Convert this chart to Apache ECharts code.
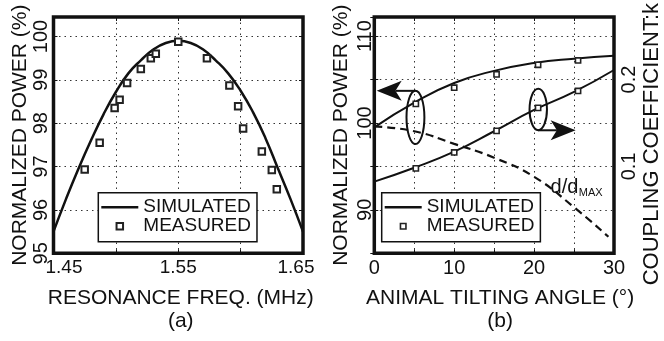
<!DOCTYPE html>
<html>
<head>
<meta charset="utf-8">
<script src="https://cdn.jsdelivr.net/npm/echarts@6/dist/echarts.min.js"></script>
<style>
  html, body { margin: 0; padding: 0; background: #fff; }
  #chart { width: 664px; height: 341px; }
</style>
</head>
<body>
<div id="chart"></div>
<script>
// (a) normalized power vs resonance frequency
const freqSim = [1.45, 1.46, 1.47, 1.48, 1.49, 1.50, 1.51, 1.52, 1.53, 1.54, 1.55,
                 1.56, 1.57, 1.58, 1.59, 1.60, 1.61, 1.62, 1.63, 1.64, 1.65];
const powerSimA = [95.5, 96.25, 96.95, 97.6, 98.2, 98.72, 99.15, 99.45, 99.7, 99.85, 99.9,
                   99.85, 99.7, 99.45, 99.15, 98.75, 98.25, 97.65, 96.95, 96.25, 95.5];
const freqMeas = [1.475, 1.487, 1.499, 1.503, 1.509, 1.520, 1.528, 1.532, 1.550,
                  1.573, 1.591, 1.598, 1.602, 1.617, 1.625, 1.629];
const powerMeasA = [96.93, 97.55, 98.35, 98.54, 98.93, 99.25, 99.50, 99.60, 99.88,
                    99.50, 98.87, 98.39, 97.88, 97.35, 96.92, 96.48];

// (b) normalized power and coupling coefficient vs tilting angle
const angleSim = [0, 5, 10, 15, 20, 25, 30];
const powerSimB = [99.5, 102.35, 104.6, 106.0, 106.9, 107.4, 107.75];
const couplingSim = [0.0825, 0.0985, 0.117, 0.1405, 0.165, 0.1858, 0.211];
const angleMeas = [5.2, 10, 15.3, 20.5, 25.5];
const powerMeasB = [102.2, 104.06, 105.6, 106.7, 107.2];
const couplingMeas = [0.0977, 0.1161, 0.1409, 0.1674, 0.1869];
const distAngle = [0, 5, 10, 15, 20, 25, 29.3];
const distCurve = [99.6, 99.05, 97.6, 96.0, 93.8, 90.3, 86.9];

// tick labels
const freqLabels = [1.45, 1.55, 1.65];
const powerLabelsA = [95, 96, 97, 98, 99, 100];
const angleLabels = [0, 10, 20, 30];
const powerLabelsB = [90, 100, 110];
const couplingLabels = [0.1, 0.2];

// annotations in (angle, power) units
const ovals = [[5.15, 100.65, 1.12, 3.07], [20.52, 101.55, 1.09, 2.39]];
const arrows = [[[5.15, 103.7], [0.3, 103.7]], [[20.52, 99.16], [25.2, 99.16]]];

const FONT = 'Liberation Sans, Arial, sans-serif';
const INK = '#111';

const pairs = (xs, ys) => xs.map((x, i) => [x, ys[i]]);
const has = (list, v) => list.some((t) => Math.abs(t - v) < 1e-6);
const only = (list, digits) => (v) => has(list, v) ? v.toFixed(digits) : '';

const tick = { show: true, inside: true, length: 4, lineStyle: { color: INK, width: 1 } };
const dotted = { color: '#333', width: 1, type: [1.5, 4] };
const split = { show: true, showMinLine: false, showMaxLine: false, lineStyle: dotted };
const label = { color: INK, fontFamily: FONT, fontSize: 19 };
const nameStyle = { color: INK, fontFamily: FONT, fontSize: 21 };

const chart = echarts.init(document.getElementById('chart'));

const option = {
  animation: false,
  grid: [
    { left: 53.5, top: 17, width: 249.5, height: 236.3, show: true, borderColor: INK, borderWidth: 3.5, backgroundColor: '#fff' },
    { left: 374.3, top: 17, width: 243, height: 236.3, show: true, borderColor: INK, borderWidth: 3.5, backgroundColor: '#fff' }
  ],
  xAxis: [
    {
      gridIndex: 0, type: 'value', min: 1.45, max: 1.65, interval: 0.05,
      axisLine: { show: false }, axisTick: tick, splitLine: split,
      axisLabel: {
        ...label, margin: 5,
        formatter: (v) => {
          if (!has(freqLabels, v)) return '';
          if (Math.abs(v - freqLabels[0]) < 1e-6) return '{lo|' + v.toFixed(2) + '}';
          if (Math.abs(v - freqLabels[2]) < 1e-6) return '{hi|' + v.toFixed(2) + '}';
          return v.toFixed(2);
        },
        rich: {
          lo: { ...label, padding: [0, 0, 0, 21] },
          hi: { ...label, padding: [0, 14, 0, 0] }
        }
      },
      name: 'RESONANCE FREQ. (MHz)\n(a)', nameLocation: 'middle', nameGap: 33,
      nameTextStyle: { ...nameStyle, lineHeight: 23, padding: [0, 0, 0, 5] }
    },
    {
      gridIndex: 1, type: 'value', min: 0, max: 30, interval: 5,
      axisLine: { show: false }, axisTick: tick, splitLine: split,
      axisLabel: { ...label, fontSize: 20, margin: 5, formatter: only(angleLabels, 0) },
      name: 'ANIMAL TILTING ANGLE (°)\n(b)', nameLocation: 'middle', nameGap: 33,
      nameTextStyle: { ...nameStyle, lineHeight: 23, padding: [0, 0, 0, 12] }
    },
    {
      gridIndex: 0, type: 'value', position: 'top', min: 1.45, max: 1.65, interval: 0.05,
      axisLine: { show: false }, axisTick: tick, splitLine: { show: false }, axisLabel: { show: false }
    },
    {
      gridIndex: 1, type: 'value', position: 'top', min: 0, max: 30, interval: 5,
      axisLine: { show: false }, axisTick: tick, splitLine: { show: false }, axisLabel: { show: false }
    }
  ],
  yAxis: [
    {
      gridIndex: 0, type: 'value', min: 95, max: 100.45, interval: 1,
      axisLine: { show: false }, axisTick: tick, splitLine: split,
      axisLabel: { ...label, fontSize: 20, rotate: 90, margin: 2, formatter: only(powerLabelsA, 0) },
      name: 'NORMALIZED POWER (%)', nameLocation: 'middle', nameGap: 23, nameTextStyle: nameStyle
    },
    {
      gridIndex: 1, type: 'value', min: 85, max: 112.2, interval: 5,
      axisLine: { show: false }, axisTick: tick, splitLine: split,
      axisLabel: { ...label, fontSize: 20, rotate: 90, margin: -1, formatter: only(powerLabelsB, 0) },
      name: 'NORMALIZED POWER (%)', nameLocation: 'middle', nameGap: 23, nameTextStyle: nameStyle
    },
    {
      gridIndex: 1, type: 'value', position: 'right', min: 0, max: 0.272, interval: 0.05,
      axisLine: { show: false }, axisTick: tick, splitLine: { show: false },
      axisLabel: { ...label, fontSize: 20, rotate: 90, margin: 5, formatter: only(couplingLabels, 1) },
      name: 'COUPLING COEFFICIENT:k', nameLocation: 'middle', nameGap: 27,
      nameTextStyle: { ...nameStyle, fontSize: 22, padding: [0, 18, 0, 0] }
    },
    {
      gridIndex: 0, type: 'value', position: 'right', min: 95, max: 100.45, interval: 1,
      axisLine: { show: false }, axisTick: tick, splitLine: { show: false }, axisLabel: { show: false }
    }
  ],
  legend: [0, 1].map((i) => ({
    left: i === 0 ? 98.3 : 381.7,
    top: 192.7,
    orient: 'vertical',
    align: 'left',
    selectedMode: false,
    itemWidth: 37,
    itemHeight: i === 0 ? 6.5 : 5.5,
    itemGap: 0,
    padding: [5, 6, 6, 3],
    borderColor: INK,
    borderWidth: 1.5,
    borderRadius: 0,
    backgroundColor: '#fff',
    textStyle: { color: INK, fontFamily: FONT, fontSize: 19, lineHeight: 17 },
    data: [
      {
        name: 'SIMULATED',
        icon: 'path://M0,0H37V2.6H0Z',
        itemStyle: { color: INK, borderWidth: 0 }
      },
      {
        name: 'MEASURED',
        icon: 'path://M0,0H10V10H0Z',
        itemStyle: { color: '#fff', borderColor: '#222', borderWidth: i === 0 ? 2 : 1.6 }
      }
    ]
  })),
  series: [
    {
      name: 'SIMULATED', type: 'line', xAxisIndex: 0, yAxisIndex: 0,
      data: pairs(freqSim, powerSimA), smooth: true, symbol: 'none',
      itemStyle: { color: INK }, lineStyle: { color: INK, width: 2.5 }
    },
    {
      name: 'MEASURED', type: 'scatter', xAxisIndex: 0, yAxisIndex: 0, z: 3,
      data: pairs(freqMeas, powerMeasA), symbol: 'rect', symbolSize: 6.5,
      itemStyle: { color: '#fff', borderColor: '#222', borderWidth: 2, opacity: 1 }
    },
    {
      name: 'SIMULATED', type: 'line', xAxisIndex: 1, yAxisIndex: 1,
      data: pairs(angleSim, powerSimB), smooth: true, symbol: 'none',
      itemStyle: { color: INK }, lineStyle: { color: INK, width: 2 }
    },
    {
      name: 'SIMULATED', type: 'line', xAxisIndex: 1, yAxisIndex: 2,
      data: pairs(angleSim, couplingSim), smooth: true, symbol: 'none',
      itemStyle: { color: INK }, lineStyle: { color: INK, width: 2 }
    },
    {
      name: 'd/dMAX', type: 'line', xAxisIndex: 1, yAxisIndex: 1,
      data: pairs(distAngle, distCurve), smooth: true, symbol: 'none',
      itemStyle: { color: INK }, lineStyle: { color: INK, width: 2.2, type: [8, 5] }
    },
    {
      name: 'MEASURED', type: 'scatter', xAxisIndex: 1, yAxisIndex: 1, z: 3,
      data: pairs(angleMeas, powerMeasB), symbol: 'rect', symbolSize: 5.2,
      itemStyle: { color: '#fff', borderColor: '#222', borderWidth: 1.6, opacity: 1 }
    },
    {
      name: 'MEASURED', type: 'scatter', xAxisIndex: 1, yAxisIndex: 2, z: 3,
      data: pairs(angleMeas, couplingMeas), symbol: 'rect', symbolSize: 5.2,
      itemStyle: { color: '#fff', borderColor: '#222', borderWidth: 1.6, opacity: 1 }
    }
  ]
};

chart.setOption(option);

// ovals, arrows and the d/dMAX tag, placed through the (b) axes
const toPx = (p) => chart.convertToPixel({ xAxisIndex: 1, yAxisIndex: 1 }, p);
const shapes = [];

ovals.forEach(([cx, cy, hw, hh]) => {
  const c = toPx([cx, cy]);
  const e = toPx([cx + hw, cy + hh]);
  shapes.push({
    type: 'ellipse', z: 10,
    shape: { cx: c[0], cy: c[1], rx: Math.abs(e[0] - c[0]), ry: Math.abs(e[1] - c[1]) },
    style: { fill: 'none', stroke: INK, lineWidth: 2 }
  });
});

arrows.forEach(([from, to]) => {
  const a = toPx(from);
  const t = toPx(to);
  const len = Math.hypot(t[0] - a[0], t[1] - a[1]);
  const dx = (t[0] - a[0]) / len;
  const dy = (t[1] - a[1]) / len;
  const head = 25;
  const half = 10;
  const bx = t[0] - dx * head;
  const by = t[1] - dy * head;
  const nx = t[0] - dx * head * 0.75;
  const ny = t[1] - dy * head * 0.75;
  shapes.push({
    type: 'line', z: 10,
    shape: { x1: a[0], y1: a[1], x2: nx, y2: ny },
    style: { stroke: INK, lineWidth: 2 }
  });
  shapes.push({
    type: 'polygon', z: 10,
    shape: { points: [t, [bx - dy * half, by + dx * half], [nx, ny], [bx + dy * half, by - dx * half]] },
    style: { fill: INK }
  });
});

const dPos = toPx([22.06, 92.53]);
const subPos = toPx([25.6, 91.9]);
shapes.push({
  type: 'text', z: 10, x: dPos[0], y: dPos[1],
  style: { text: 'd/d', fill: INK, font: '20px ' + FONT, align: 'left', verticalAlign: 'middle' }
});
shapes.push({
  type: 'text', z: 10, x: subPos[0], y: subPos[1],
  style: { text: 'MAX', fill: INK, font: '11px ' + FONT, align: 'left', verticalAlign: 'middle' }
});

chart.setOption({ graphic: shapes });
</script>
</body>
</html>
